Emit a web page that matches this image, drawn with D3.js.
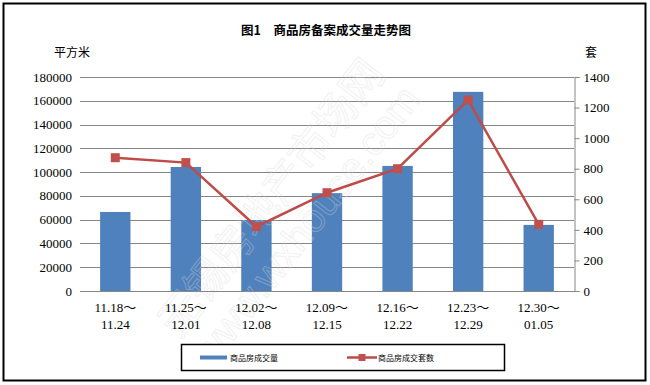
<!DOCTYPE html>
<html>
<head>
<meta charset="utf-8">
<script src="https://cdn.jsdelivr.net/npm/d3@7"></script>
<style>
  body { margin: 0; background: #fff; }
  text { font-family: "Liberation Serif", "Noto Sans CJK SC", serif; }
</style>
</head>
<body>
<div id="chart"></div>
<script>
(function(){
const width = 650;
const height = 385;

// data
const weeksFrom = ["11.18～", "11.25～", "12.02～", "12.09～", "12.16～", "12.23～", "12.30～"];
const weeksTo = ["11.24", "12.01", "12.08", "12.15", "12.22", "12.29", "01.05"];
const areaSold = [66500, 104300, 59700, 82300, 105200, 167500, 55600];   // 平方米
const unitsSold = [872, 840, 421, 643, 800, 1250, 436];                  // 套
const leftTicks = [0, 20000, 40000, 60000, 80000, 100000, 120000, 140000, 160000, 180000];
const rightTicks = [0, 200, 400, 600, 800, 1000, 1200, 1400];

const plot = { left: 80, right: 574, top: 77, bottom: 291 };
const cjk = "'Noto Sans CJK SC', sans-serif";

const svg = d3.select("#chart")
  .append("svg")
  .attr("width", width)
  .attr("height", height);

// outer frame
svg.append("rect")
  .attr("x", 3.5).attr("y", 3.5)
  .attr("width", 642).attr("height", 377)
  .attr("fill", "#fff")
  .attr("stroke", "#000")
  .attr("stroke-width", 2);

const x = d3.scaleBand()
  .domain(weeksFrom)
  .range([plot.left, plot.right]);

const yL = d3.scaleLinear().domain([0, 180000]).range([plot.bottom, plot.top]);
const yR = d3.scaleLinear().domain([0, 1400]).range([plot.bottom, plot.top]);

// gridlines
svg.append("g")
  .selectAll("line")
  .data(leftTicks)
  .join("line")
  .attr("x1", plot.left)
  .attr("x2", plot.right)
  .attr("y1", d => Math.round(yL(d)) + 0.5)
  .attr("y2", d => Math.round(yL(d)) + 0.5)
  .attr("stroke", "#868686")
  .attr("stroke-width", 1);

// left labels
svg.append("g")
  .selectAll("text")
  .data(leftTicks)
  .join("text")
  .attr("x", 72)
  .attr("y", d => yL(d) + 4.5)
  .attr("text-anchor", "end")
  .style("font-size", "13px")
  .text(d => d);

// bars
const barW = x.bandwidth() * 0.43;
svg.append("g")
  .selectAll("rect")
  .data(areaSold)
  .join("rect")
  .attr("x", (d, i) => x(weeksFrom[i]) + x.bandwidth() / 2 - barW / 2)
  .attr("y", d => yL(d))
  .attr("width", barW)
  .attr("height", d => plot.bottom - yL(d))
  .attr("fill", "#4F81BD");

// watermark, faint outline text
const wm = svg.append("g")
  .attr("transform", "translate(300,220) rotate(-52)")
  .attr("opacity", 0.35);
wm.append("text")
  .attr("x", 0).attr("y", -22)
  .attr("text-anchor", "middle")
  .style("font-family", cjk)
  .style("font-size", "42px")
  .attr("fill", "none")
  .attr("stroke", "#d8d8d8")
  .attr("stroke-width", 1)
  .text("无锡房地产市场网");
wm.append("text")
  .attr("x", 0).attr("y", 22)
  .attr("text-anchor", "middle")
  .style("font-family", "'Liberation Sans', sans-serif")
  .style("font-size", "40px")
  .attr("fill", "none")
  .attr("stroke", "#d8d8d8")
  .attr("stroke-width", 1)
  .text("www.wxhouse.com");

// line series
const line = d3.line()
  .x((d, i) => x(weeksFrom[i]) + x.bandwidth() / 2)
  .y(d => yR(d));

svg.append("path")
  .datum(unitsSold)
  .attr("d", line)
  .attr("fill", "none")
  .attr("stroke", "#BE4B48")
  .attr("stroke-width", 2.5);

svg.append("g")
  .selectAll("rect")
  .data(unitsSold)
  .join("rect")
  .attr("x", (d, i) => x(weeksFrom[i]) + x.bandwidth() / 2 - 4.5)
  .attr("y", d => yR(d) - 4.5)
  .attr("width", 9)
  .attr("height", 9)
  .attr("fill", "#C0504D");

// bottom axis line
svg.append("line")
  .attr("x1", plot.left).attr("x2", plot.right + 5)
  .attr("y1", plot.bottom + 0.5).attr("y2", plot.bottom + 0.5)
  .attr("stroke", "#868686");

// right axis
const rAxis = svg.append("g")
  .attr("transform", `translate(${plot.right + 0.5},0)`)
  .call(d3.axisRight(yR).tickValues(rightTicks).tickFormat(d3.format("d")).tickSize(5).tickPadding(4));
rAxis.selectAll("path, line").attr("stroke", "#868686");
rAxis.selectAll("text")
  .style("font-family", "'Liberation Serif', serif")
  .style("font-size", "13px")
  .attr("fill", "#000");

// x labels
const xl = svg.append("g");
xl.selectAll("text.from")
  .data(weeksFrom)
  .join("text")
  .attr("class", "from")
  .attr("x", d => x(d) + x.bandwidth() / 2)
  .attr("y", 312)
  .attr("text-anchor", "middle")
  .style("font-size", "13px")
  .text(d => d);
xl.selectAll("text.to")
  .data(weeksTo)
  .join("text")
  .attr("class", "to")
  .attr("x", (d, i) => x(weeksFrom[i]) + x.bandwidth() / 2)
  .attr("y", 329)
  .attr("text-anchor", "middle")
  .style("font-size", "13px")
  .text(d => d);

// title and axis units
svg.append("text")
  .attr("x", 326).attr("y", 35)
  .attr("text-anchor", "middle")
  .style("font-family", cjk)
  .style("font-weight", "bold")
  .style("font-size", "12.5px")
  .text("图1　商品房备案成交量走势图");

svg.append("text")
  .attr("x", 54).attr("y", 57)
  .style("font-family", cjk)
  .style("font-size", "12px")
  .text("平方米");

svg.append("text")
  .attr("x", 585).attr("y", 57)
  .style("font-family", cjk)
  .style("font-size", "12px")
  .text("套");

// legend
const lg = svg.append("g");
lg.append("rect")
  .attr("x", 181.5).attr("y", 344.5)
  .attr("width", 323).attr("height", 26)
  .attr("fill", "#fff")
  .attr("stroke", "#000")
  .attr("stroke-width", 1.5);
lg.append("rect")
  .attr("x", 200).attr("y", 355.5)
  .attr("width", 27).attr("height", 4)
  .attr("fill", "#4F81BD");
lg.append("text")
  .attr("x", 230).attr("y", 361)
  .style("font-family", cjk)
  .style("font-size", "8px")
  .text("商品房成交量");
lg.append("line")
  .attr("x1", 347).attr("x2", 377)
  .attr("y1", 357.5).attr("y2", 357.5)
  .attr("stroke", "#BE4B48")
  .attr("stroke-width", 2.5);
lg.append("rect")
  .attr("x", 358.5).attr("y", 354)
  .attr("width", 7).attr("height", 7)
  .attr("fill", "#C0504D");
lg.append("text")
  .attr("x", 378).attr("y", 361)
  .style("font-family", cjk)
  .style("font-size", "8px")
  .text("商品房成交套数");
})();
</script>
</body>
</html>
